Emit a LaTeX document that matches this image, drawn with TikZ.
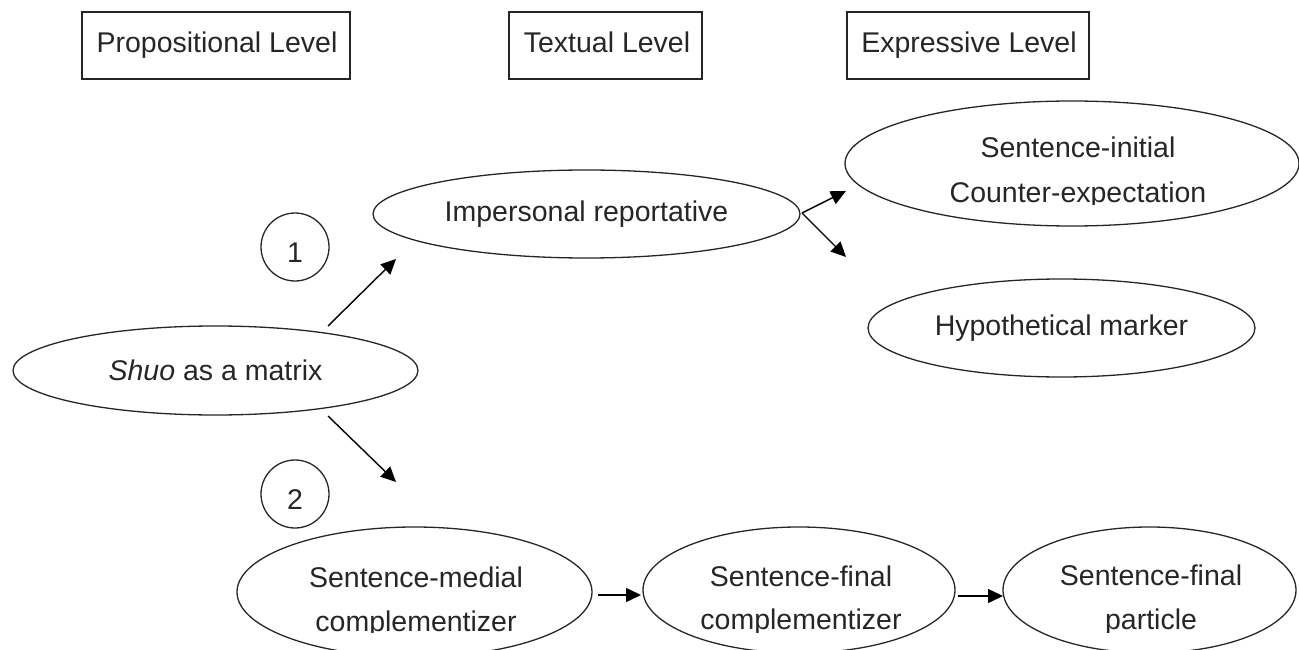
\documentclass[tikz,border=0pt]{standalone}
\usepackage{fontspec}
\setmainfont{Liberation Sans}
\usetikzlibrary{shapes.geometric,arrows.meta}
\definecolor{ink}{RGB}{38,38,38}
\tikzset{
  lvlbox/.style={draw=ink,line width=1.4pt,rectangle,inner sep=0pt,text=ink},
  oval/.style={draw=ink,line width=1.3pt,ellipse,inner sep=0pt,text=ink},
  txt/.style={text=ink,inner sep=0pt,anchor=base},
  num/.style={draw=ink,line width=1.3pt,circle,inner sep=0pt,minimum size=68pt},
  arr/.style={draw=black,line width=1.4pt,-{Triangle[length=15pt,width=14pt]}}
}
\begin{document}
\begin{tikzpicture}[x=1pt,y=-1pt,font=\fontsize{28.5}{44.5}\selectfont]
\useasboundingbox (0,0) rectangle (1299,650);
\clip (0,0) rectangle (1299,650);

% level boxes
\node[lvlbox,minimum width=268pt,minimum height=67pt] (prop) at (216,45.5) {};
\node[txt] (propt) at (217,53) {Propositional Level};
\node[lvlbox,minimum width=193pt,minimum height=67pt] (text) at (605.5,45.5) {};
\node[txt] (textt) at (607,53) {Textual Level};
\node[lvlbox,minimum width=242pt,minimum height=67pt] (expr) at (968,45.5) {};
\node[txt] (exprt) at (969,53) {Expressive Level};

% ellipses
\node[oval,minimum width=405pt,minimum height=89pt] (shuo) at (215.5,370.5) {\textit{Shuo} as a matrix};
\node[oval,minimum width=427pt,minimum height=88pt] (imp) at (586.5,214) {Impersonal reportative};
\node[oval,minimum width=454pt,minimum height=125pt] (init) at (1072,163.5) {};
\begin{scope}
  \clip (840,100) rectangle (1299,204);
  \node[txt] (initt) at (1078,158) {Sentence-initial};
  \node[txt] (initt2) at (1078,203) {Counter-expectation};
\end{scope}
\node[oval,minimum width=387pt,minimum height=98pt] (hypo) at (1061.5,328) {Hypothetical marker};

\node[oval,minimum width=355pt,minimum height=130pt] (med) at (414.5,592) {};
\node[oval,minimum width=312pt,minimum height=126pt] (fin) at (799,590) {};
\node[oval,minimum width=293pt,minimum height=126pt] (part) at (1149.5,590) {};
\begin{scope}
  \clip (0,500) rectangle (1299,632);
  \node[txt] (medt) at (416,587) {Sentence-medial};
  \node[txt] (medt2) at (416,631) {complementizer};
  \node[txt] (fint) at (801,586) {Sentence-final};
  \node[txt] (fint2) at (801,629) {complementizer};
  \node[txt] (partt) at (1151,585) {Sentence-final};
  \node[txt] (partt2) at (1151,629) {particle};
\end{scope}

% numbered circles
\node[num] (one) at (295,247) {};
\node[txt] (onet) at (295,262) {1};
\node[num] (two) at (295,494) {};
\node[txt] (twot) at (295,509) {2};

% connector end points
\coordinate (s1) at (328,326);
\coordinate (e1) at (396,259);
\coordinate (s2) at (328,416);
\coordinate (e2) at (396,482);
\coordinate (i0) at (802,213);
\coordinate (ia) at (846,191);
\coordinate (ib) at (846,257);
\coordinate (m0) at (598,595);
\coordinate (m1) at (641,595);
\coordinate (f0) at (958,596);
\coordinate (f1) at (1003,596);

\draw[arr] (s1) -- (e1);
\draw[arr] (s2) -- (e2);
\draw[arr] (i0) -- (ia);
\draw[arr] (i0) -- (ib);
\draw[arr] (m0) -- (m1);
\draw[arr] (f0) -- (f1);
\end{tikzpicture}
\end{document}
